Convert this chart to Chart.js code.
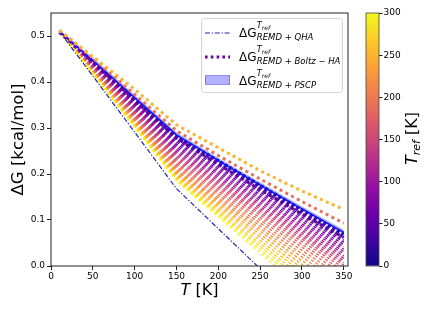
<!DOCTYPE html>
<html>
<head>
<meta charset="utf-8">
<script src="https://cdn.jsdelivr.net/npm/chart.js@4.4.1/dist/chart.umd.min.js"></script>
<style>
  html, body { margin: 0; padding: 0; background: #fff; }
  #wrap { position: relative; width: 436px; height: 312px; }
  #main { position: absolute; left: 0; top: 0; }
  #cbar { position: absolute; left: 360px; top: 0; }
</style>
</head>
<body>
<div id="wrap">
  <canvas id="main" width="436" height="312" style="width:436px;height:312px"></canvas>
  <canvas id="cbar" width="76" height="312" style="width:76px;height:312px"></canvas>
</div>
<script>
// temperatures (K) used for the reference curves
const temps = [10, 50, 100, 150, 200, 250, 300, 350];
const qhaTemps = [10, 50, 100, 150, 200, 250, 300];

// dG [kcal/mol]
const qha = [0.510, 0.413, 0.291, 0.168, 0.081, -0.006, -0.094];
const pscp = [0.510, 0.447, 0.366, 0.285, 0.229, 0.176, 0.124, 0.073];
const pscpLow = [0.507, 0.443, 0.362, 0.281, 0.225, 0.172, 0.120, 0.069];
const pscpHigh = [0.514, 0.453, 0.372, 0.291, 0.235, 0.182, 0.130, 0.079];

// Boltz-HA curves for a few reference temperatures
const boltzRefs = [50, 190, 250];
const boltzPurple = [0.508, 0.443, 0.360, 0.278, 0.221, 0.166, 0.113, 0.062];
const boltzRed = [0.512, 0.452, 0.373, 0.294, 0.240, 0.189, 0.140, 0.093];
const boltzOrange = [0.512, 0.455, 0.384, 0.307, 0.257, 0.207, 0.163, 0.123];

// fan of curves, one per T_ref
const fanTemps = [10, 150, 350];
const tRefs = [0, 10, 20, 30, 40, 50, 60, 70, 80, 90, 100, 110, 120, 130, 140, 150,
  160, 170, 180, 190, 200, 210, 220, 230, 240, 250, 260, 270, 280, 290, 300];
const fanStart = 0.51;
const fanAt150 = [0.284, 0.283, 0.281, 0.279, 0.276, 0.273, 0.269, 0.265, 0.261, 0.257,
  0.253, 0.249, 0.245, 0.241, 0.237, 0.233, 0.229, 0.225, 0.221, 0.217, 0.213, 0.209,
  0.206, 0.203, 0.200, 0.197, 0.194, 0.191, 0.189, 0.187, 0.185];
const fanAt350 = [0.071, 0.069, 0.066, 0.063, 0.060, 0.056, 0.052, 0.047, 0.042, 0.037,
  0.032, 0.027, 0.022, 0.017, 0.012, 0.007, 0.002, -0.004, -0.011, -0.018, -0.026, -0.034,
  -0.043, -0.052, -0.062, -0.072, -0.083, -0.094, -0.105, -0.116, -0.128];

const xTicks = [0, 50, 100, 150, 200, 250, 300, 350];
const yTicks = [0, 0.1, 0.2, 0.3, 0.4, 0.5];
const cbarTicks = [0, 50, 100, 150, 200, 250, 300];

const FONT = 'DejaVu Sans';
Chart.defaults.font.family = FONT;
Chart.defaults.color = '#000';

const plasmaStops = ['#0d0887', '#41049d', '#6a00a8', '#8f0da4', '#b12a90', '#cc4778',
  '#e16462', '#f2844b', '#fca636', '#fcce25', '#f0f921'];

function hexRgb(h) {
  return [parseInt(h.slice(1, 3), 16), parseInt(h.slice(3, 5), 16), parseInt(h.slice(5, 7), 16)];
}

function plasma(t) {
  t = Math.max(0, Math.min(1, t));
  const p = t * (plasmaStops.length - 1);
  const i = Math.min(Math.floor(p), plasmaStops.length - 2);
  const f = p - i;
  const a = hexRgb(plasmaStops[i]), b = hexRgb(plasmaStops[i + 1]);
  const c = a.map((v, k) => Math.round(v + (b[k] - v) * f));
  return 'rgb(' + c.join(',') + ')';
}

const pts = (xs, ys) => xs.map((x, i) => ({x: x, y: ys[i]}));

const datasets = [];
tRefs.forEach((r, i) => {
  datasets.push({
    data: pts(fanTemps, [fanStart, fanAt150[i], fanAt350[i]]),
    borderColor: plasma(r / 300),
    borderWidth: 1.4,
    borderDash: [3, 2.2],
    order: 40 - i,
  });
});
datasets.push({
  data: pts(qhaTemps, qha),
  borderColor: '#2c1fb5',
  borderWidth: 1.2,
  borderDash: [5, 1.8, 1.2, 1.8],
  order: 8,
});
datasets.push({
  data: pts(temps, pscpLow),
  borderWidth: 0,
  borderColor: 'rgba(0,0,0,0)',
  order: 7,
});
datasets.push({
  data: pts(temps, pscpHigh),
  borderWidth: 0,
  borderColor: 'rgba(0,0,0,0)',
  backgroundColor: 'rgba(0,0,255,0.3)',
  fill: '-1',
  order: 6,
});
datasets.push({
  data: pts(temps, pscp),
  borderColor: '#1414ff',
  borderWidth: 1.5,
  order: 5,
});
[boltzPurple, boltzRed, boltzOrange].forEach((vals, i) => {
  datasets.push({
    data: pts(temps, vals),
    borderColor: plasma(boltzRefs[i] / 300),
    borderWidth: 3,
    borderDash: [3, 3.5],
    order: 3 - i,
  });
});
datasets.forEach(d => {
  d.pointRadius = 0;
  d.clip = 0;
  d.tension = 0;
  if (d.fill === undefined) d.fill = false;
});

function drawMathLabel(ctx, x, y, sub) {
  ctx.textAlign = 'left';
  ctx.textBaseline = 'alphabetic';
  ctx.font = '12px "' + FONT + '"';
  ctx.fillText('\u0394G', x, y);
  const sx = x + ctx.measureText('\u0394G').width + 0.3;
  ctx.font = 'italic 8.2px "' + FONT + '"';
  ctx.fillText('T', sx, y - 9);
  const tw = ctx.measureText('T').width;
  ctx.font = 'italic 6px "' + FONT + '"';
  ctx.fillText('ref', sx + tw, y - 6.7);
  ctx.font = 'italic 8.5px "' + FONT + '"';
  ctx.fillText(sub, sx, y + 3.3);
}

const decor = {
  id: 'decor',
  afterDraw(chart) {
    const ctx = chart.ctx;
    const a = chart.chartArea;
    ctx.save();
    // frame
    ctx.strokeStyle = '#222';
    ctx.lineWidth = 1;
    ctx.strokeRect(a.left, a.top, a.right - a.left, a.bottom - a.top);

    // x title with italic T
    ctx.fillStyle = '#000';
    ctx.textBaseline = 'alphabetic';
    ctx.textAlign = 'left';
    ctx.font = 'italic 16px "' + FONT + '"';
    const w1 = ctx.measureText('T').width;
    ctx.font = '16px "' + FONT + '"';
    const w2 = ctx.measureText(' [K]').width;
    let x0 = (a.left + a.right) / 2 - (w1 + w2) / 2;
    ctx.font = 'italic 16px "' + FONT + '"';
    ctx.fillText('T', x0, 294.5);
    ctx.font = '16px "' + FONT + '"';
    ctx.fillText(' [K]', x0 + w1, 294.5);

    // legend
    const bx = 201, by = 18, bw = 141, bh = 74;
    ctx.beginPath();
    ctx.roundRect(bx + 0.5, by + 0.5, bw, bh, 3);
    ctx.fillStyle = 'rgba(255,255,255,0.85)';
    ctx.fill();
    ctx.strokeStyle = '#d4d4d4';
    ctx.lineWidth = 1;
    ctx.stroke();

    const hx0 = 205, hx1 = 230, tx = 239;
    // QHA handle
    ctx.beginPath();
    ctx.setLineDash([5, 1.8, 1.2, 1.8]);
    ctx.strokeStyle = '#2c1fb5';
    ctx.lineWidth = 1.2;
    ctx.moveTo(hx0, 33);
    ctx.lineTo(hx1, 33);
    ctx.stroke();
    // Boltz handle
    ctx.beginPath();
    ctx.setLineDash([2.6, 3.2]);
    ctx.strokeStyle = '#6a00a8';
    ctx.lineWidth = 3;
    ctx.moveTo(hx0, 57);
    ctx.lineTo(hx1, 57);
    ctx.stroke();
    ctx.setLineDash([]);
    // PSCP handle
    ctx.fillStyle = 'rgba(0,0,255,0.3)';
    ctx.fillRect(hx0, 75.5, hx1 - hx0, 9);
    ctx.strokeStyle = 'rgba(0,0,255,0.35)';
    ctx.lineWidth = 1;
    ctx.strokeRect(hx0 + 0.5, 75.5, hx1 - hx0 - 1, 9);

    ctx.fillStyle = '#000';
    drawMathLabel(ctx, tx, 37, 'REMD + QHA');
    drawMathLabel(ctx, tx, 61, 'REMD + Boltz \u2212 HA');
    drawMathLabel(ctx, tx, 84.5, 'REMD + PSCP');
    ctx.restore();
  }
};

new Chart(document.getElementById('main'), {
  type: 'line',
  data: {datasets: datasets},
  options: {
    responsive: false,
    animation: false,
    layout: {padding: {left: 0, top: 13, right: 88, bottom: 0}},
    scales: {
      x: {
        type: 'linear',
        min: 0,
        max: 355,
        afterBuildTicks: s => { s.ticks = xTicks.map(v => ({value: v})); },
        afterFit: s => { s.height = 46; },
        ticks: {font: {size: 9}, color: '#000', padding: 1, maxRotation: 0, autoSkip: false},
        grid: {drawOnChartArea: false, tickLength: 4, color: '#222'},
        border: {display: false},
      },
      y: {
        type: 'linear',
        min: 0,
        max: 0.55,
        afterBuildTicks: s => { s.ticks = yTicks.map(v => ({value: v})); },
        afterFit: s => { s.width = 51; },
        ticks: {font: {size: 9}, color: '#000', padding: 2, callback: v => v.toFixed(1)},
        grid: {drawOnChartArea: false, tickLength: 4, color: '#222'},
        border: {display: false},
        title: {display: true, text: '\u0394G [kcal/mol]', font: {size: 16.5}, color: '#000', padding: {top: 8.5, bottom: 0}},
      },
    },
    plugins: {legend: {display: false}, tooltip: {enabled: false}},
  },
  plugins: [decor],
});

// colorbar
function cbarGradient(chart) {
  const a = chart.chartArea;
  if (!a) return plasmaStops[5];
  const g = chart.ctx.createLinearGradient(0, a.bottom, 0, a.top);
  plasmaStops.forEach((c, i) => g.addColorStop(i / (plasmaStops.length - 1), c));
  return g;
}

const cbarDecor = {
  id: 'cbarDecor',
  afterDraw(chart) {
    const ctx = chart.ctx;
    const a = chart.chartArea;
    ctx.save();
    ctx.strokeStyle = '#444';
    ctx.lineWidth = 0.8;
    ctx.strokeRect(a.left, a.top, a.right - a.left, a.bottom - a.top);

    ctx.translate(56.7, 165);
    ctx.rotate(-Math.PI / 2);
    ctx.fillStyle = '#000';
    ctx.textAlign = 'left';
    ctx.textBaseline = 'alphabetic';
    ctx.font = 'italic 16px "' + FONT + '"';
    ctx.fillText('T', 0, 0);
    let x = ctx.measureText('T').width;
    ctx.font = 'italic 11px "' + FONT + '"';
    ctx.fillText('ref', x, 3.5);
    x += ctx.measureText('ref').width;
    ctx.font = '16px "' + FONT + '"';
    ctx.fillText(' [K]', x, 0);
    ctx.restore();
  }
};

new Chart(document.getElementById('cbar'), {
  type: 'bar',
  data: {
    labels: ['Tref'],
    datasets: [{
      data: [[0, 300]],
      backgroundColor: ctx => cbarGradient(ctx.chart),
      borderWidth: 0,
      barPercentage: 1,
      categoryPercentage: 1,
    }],
  },
  options: {
    responsive: false,
    animation: false,
    layout: {padding: {left: 6, top: 13, right: 0, bottom: 46}},
    scales: {
      x: {display: false},
      y: {
        position: 'right',
        min: 0,
        max: 300,
        afterBuildTicks: s => { s.ticks = cbarTicks.map(v => ({value: v})); },
        afterFit: s => { s.width = 57; },
        ticks: {font: {size: 9}, color: '#000', padding: 1},
        grid: {drawOnChartArea: false, tickLength: 3.5, color: '#222'},
        border: {display: false},
      },
    },
    plugins: {legend: {display: false}, tooltip: {enabled: false}},
  },
  plugins: [cbarDecor],
});
</script>
</body>
</html>
